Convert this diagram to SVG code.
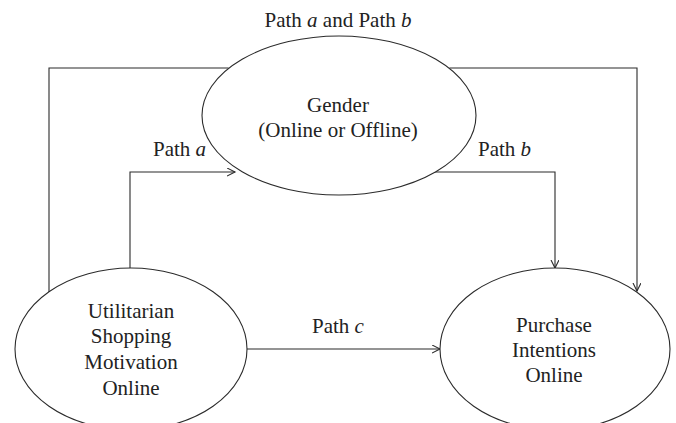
<svg xmlns="http://www.w3.org/2000/svg" width="676" height="423" viewBox="0 0 676 423">
<style>
.n{fill:#fff;stroke:#2b2b2b;stroke-width:1.1}
.c{fill:none;stroke:#2b2b2b;stroke-width:1.1}
text{font-family:"Liberation Serif","Times New Roman",serif;font-size:21px;fill:#222}
.m{text-anchor:middle}
.i{font-style:italic}
</style>
<defs>
<marker id="arr" markerUnits="userSpaceOnUse" markerWidth="10" markerHeight="10" refX="8" refY="4" orient="auto">
<path d="M0,0 L8,4 L0,8" fill="none" stroke="#2b2b2b" stroke-width="1.1"/>
</marker>
</defs>
<rect width="676" height="423" fill="#fff"/>
<g id="connectors">
<path class="c" d="M228.6,68 L49,68 L49,292"/>
<path class="c" d="M449.4,68 L637,68 L637,291" marker-end="url(#arr)"/>
<path class="c" d="M130,268 L130,172 L235,172" marker-end="url(#arr)"/>
<path class="c" d="M435,172 L555,172 L555,268" marker-end="url(#arr)"/>
<path class="c" d="M246,349 L440,349" marker-end="url(#arr)"/>
</g>
<g id="gender">
<ellipse class="n" cx="339" cy="115.5" rx="137" ry="79.5"/>
<text class="m" x="338" y="112">Gender</text>
<text class="m" x="338" y="137">(Online or Offline)</text>
</g>
<g id="utilitarian">
<ellipse class="n" cx="131" cy="349" rx="116" ry="81"/>
<text class="m" x="131" y="318">Utilitarian</text>
<text class="m" x="131" y="343">Shopping</text>
<text class="m" x="131" y="369">Motivation</text>
<text class="m" x="131" y="395">Online</text>
</g>
<g id="purchase">
<ellipse class="n" cx="555" cy="349" rx="115" ry="81"/>
<text class="m" x="554" y="332">Purchase</text>
<text class="m" x="554" y="357">Intentions</text>
<text class="m" x="554" y="382">Online</text>
</g>
<g id="labels">
<text class="m" x="338" y="27">Path <tspan class="i">a</tspan> and Path <tspan class="i">b</tspan></text>
<text x="153" y="156">Path <tspan class="i">a</tspan></text>
<text x="478" y="156">Path <tspan class="i">b</tspan></text>
<text x="312" y="333">Path <tspan class="i">c</tspan></text>
</g>
</svg>
